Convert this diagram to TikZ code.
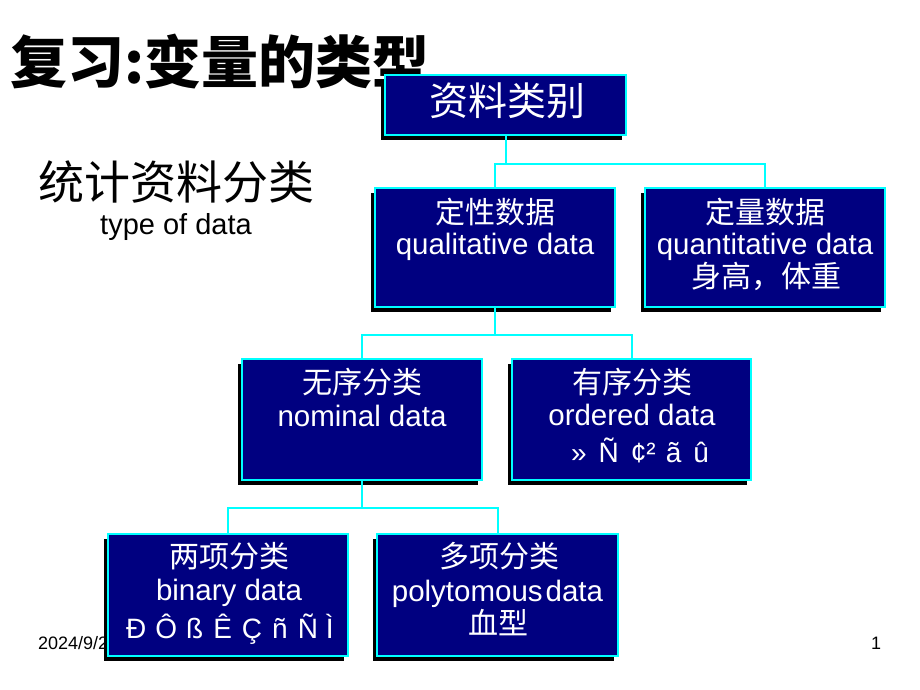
\documentclass[tikz,border=0pt]{standalone}
\usepackage{fontspec}
\setmainfont{Liberation Sans}
\newfontfamily\cjk{Noto Sans CJK SC}
\usetikzlibrary{shadows}
\definecolor{navybox}{RGB}{0,0,128}
\definecolor{cyanline}{RGB}{0,255,255}
\begin{document}
\begin{tikzpicture}[x=1pt,y=-1pt,
  box/.style={draw=cyanline, line width=2pt, fill=navybox, inner sep=0pt,
    drop shadow={shadow xshift=-4.5pt, shadow yshift=-5pt, fill=black, opacity=1}},
  conn/.style={draw=cyanline, line width=2pt},
  cn/.style={text=white, inner sep=0pt, anchor=center, font=\cjk\fontsize{30}{32}\selectfont},
  en/.style={text=white, inner sep=0pt, anchor=base, font=\fontsize{29.5}{32}\selectfont},
  gb/.style={text=white, inner sep=0pt, anchor=base, font=\fontsize{28}{32}\selectfont}]
\useasboundingbox[fill=white] (0,0) rectangle (920,690);

% title and side text
\node[inner sep=0pt, anchor=west, font=\cjk\bfseries\fontsize{57}{60}\selectfont] (title) at (10,62) {复习:变量的类型};
\node[inner sep=0pt, font=\cjk\fontsize{46}{50}\selectfont] (sub) at (176,182) {统计资料分类};
\node[inner sep=0pt, anchor=base, font=\fontsize{29}{30}\selectfont] (subeng) at (176,234) {type of data};
\node[inner sep=0pt, anchor=base west, font=\fontsize{18}{20}\selectfont] (date) at (38,649) {2024/9/2};
\node[inner sep=0pt, anchor=base, font=\fontsize{18}{20}\selectfont] (pg) at (876,649) {1};

% boxes
\node[box, minimum width=241pt, minimum height=59pt] (b1) at (505.5,105) {};
\node[box, minimum width=240pt, minimum height=119pt] (b2) at (495,247.5) {};
\node[box, minimum width=240pt, minimum height=119pt] (b3) at (765,247.5) {};
\node[box, minimum width=240pt, minimum height=121pt] (b4) at (362,419.5) {};
\node[box, minimum width=239pt, minimum height=121pt] (b5) at (631.5,419.5) {};
\node[box, minimum width=240pt, minimum height=122pt] (b6) at (228,595) {};
\node[box, minimum width=241pt, minimum height=122pt] (b7) at (497.5,595) {};

% connectors
\coordinate (h1) at (0,164);
\coordinate (h2) at (0,335);
\coordinate (h3) at (0,508);
\draw[conn] (b1.south) -- (b1.south |- h1);
\draw[conn] (b2.north) -- (b2.north |- h1) -- (b3.north |- h1) -- (b3.north);
\draw[conn] (b2.south) -- (b2.south |- h2);
\draw[conn] (b4.north) -- (b4.north |- h2) -- (b5.north |- h2) -- (b5.north);
\draw[conn] (b4.south) -- (b4.south |- h3);
\draw[conn] (b6.north) -- (b6.north |- h3) -- (b7.north |- h3) -- (b7.north);

% box texts
\node[cn, font=\cjk\fontsize{39}{42}\selectfont] (t1) at (507,101) {资料类别};
\node[cn] (t2a) at (495,212) {定性数据};
\node[en] (t2b) at (495,254) {qualitative data};
\node[cn] (t3a) at (765,212) {定量数据};
\node[en] (t3b) at (765,254) {quantitative data};
\node[cn] (t3c) at (766,276) {身高，体重};
\node[cn] (t4a) at (362,382) {无序分类};
\node[en] (t4b) at (362,426) {nominal data};
\node[cn] (t5a) at (632,382) {有序分类};
\node[en] (t5b) at (632,425) {ordered data};
\node[gb] (t5c) at (640,462) {»\hspace{12pt}Ñ\hspace{12pt}¢²\hspace{10pt}ã\hspace{12pt}û};
\node[cn] (t6a) at (229.5,556) {两项分类};
\node[en] (t6b) at (229,600) {binary data};
\node[gb] (t6c) at (230,638) {Ð\hspace{9pt}Ô\hspace{9pt}ß\hspace{10pt}Ê\hspace{10pt}Ç\hspace{10pt}ñ\hspace{10pt}Ñ\hspace{8pt}Ì};
\node[cn] (t7a) at (499,556) {多项分类};
\node[en] (t7b) at (497.5,601) {polytomous\hspace{3pt}data};
\node[cn] (t7c) at (498,623) {血型};
\end{tikzpicture}
\end{document}
